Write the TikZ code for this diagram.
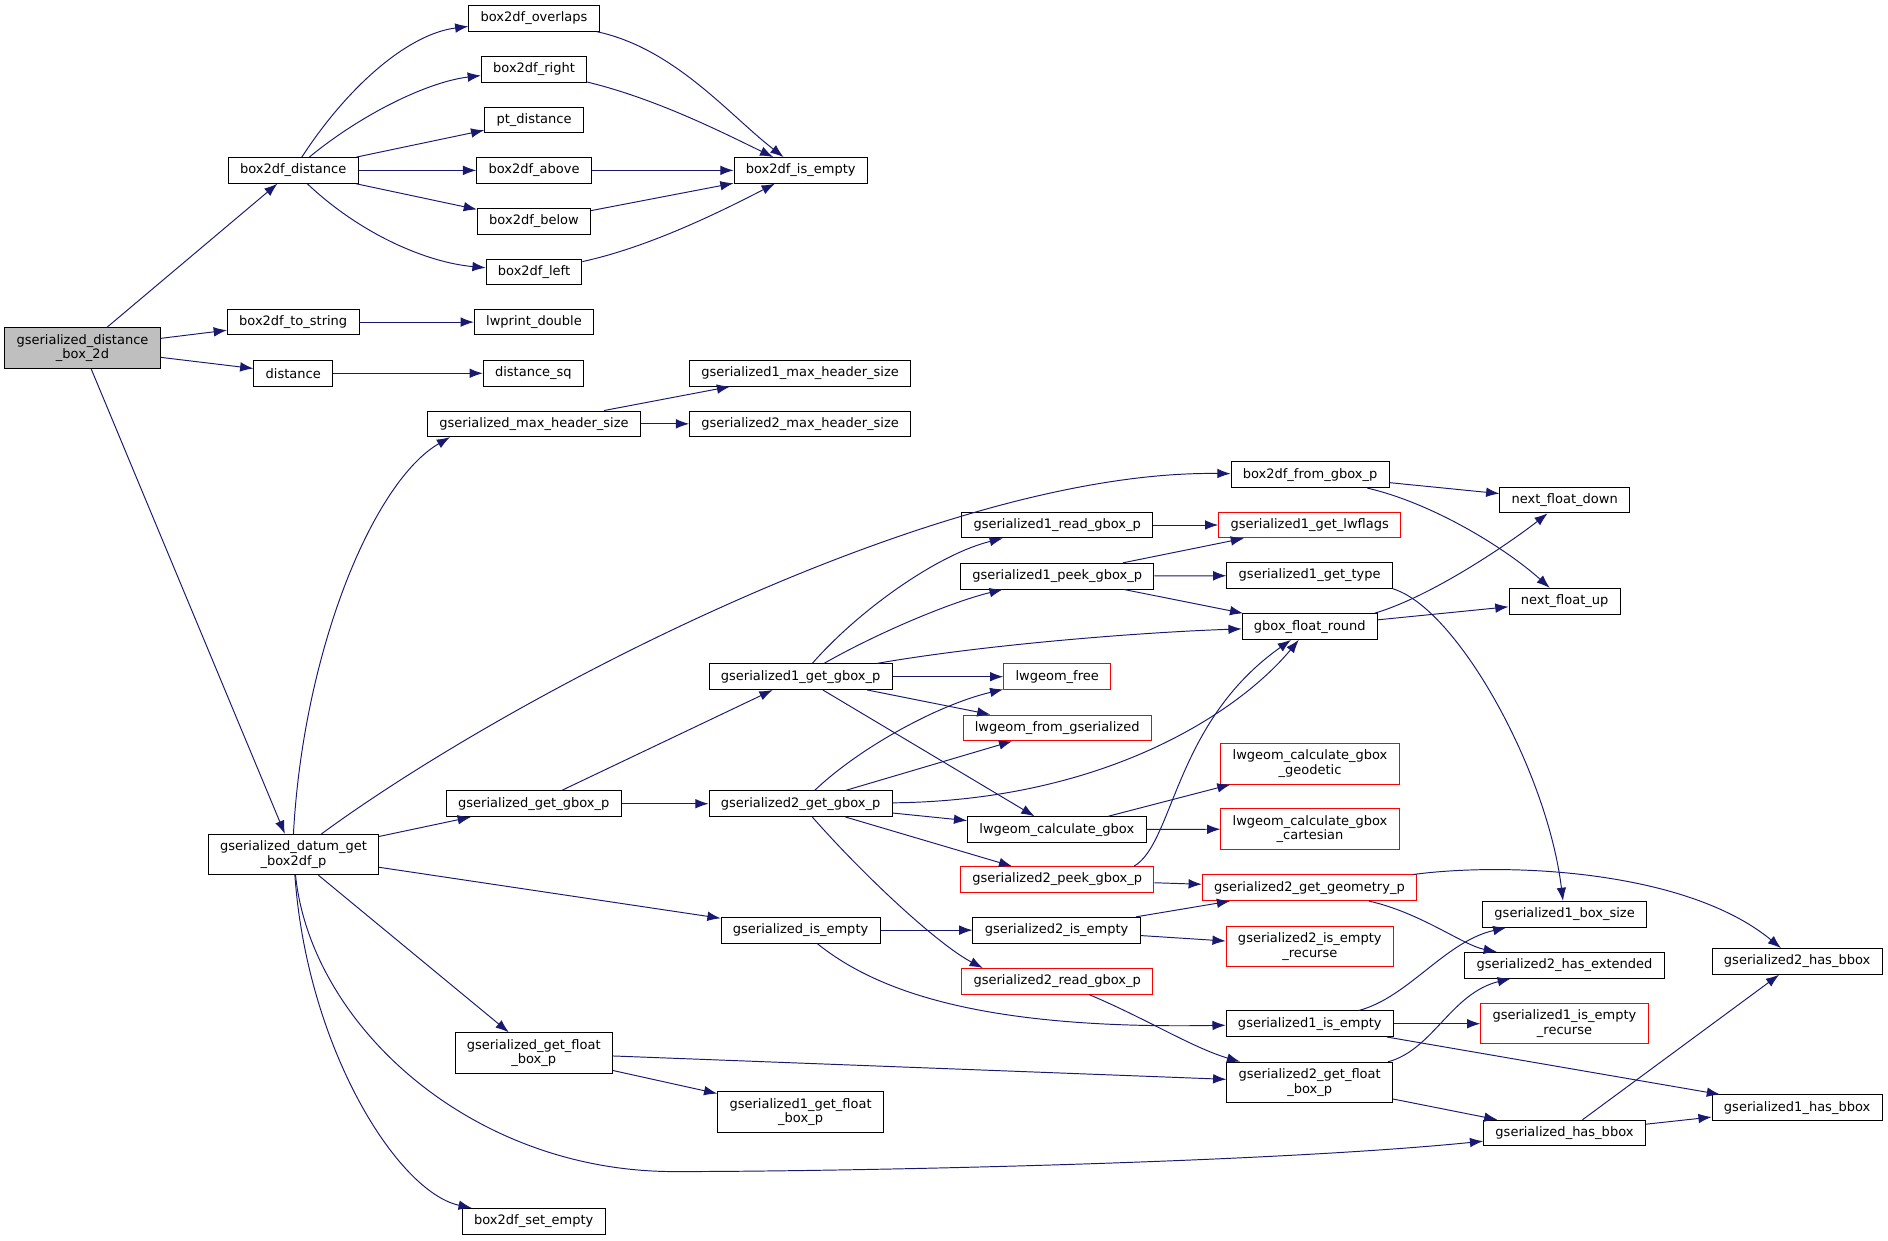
\documentclass[tikz,border=0pt]{standalone}
\usepackage{fontspec}
\setmainfont{DejaVu Sans}
\usepackage{tikz}
\usetikzlibrary{arrows.meta}
\definecolor{edgeblue}{HTML}{191970}
\definecolor{rootgray}{HTML}{BFBFBF}
\newcommand{\dxfont}{\fontsize{10.8}{12.2}\selectfont}
\tikzset{
	fn/.style={draw=black,line width=0.8pt,fill=white,font=\dxfont,align=center,inner xsep=9.8pt,inner ysep=0pt,minimum height=21.3pt},
	fntwo/.style={fn,minimum height=33.5pt},
	fnred/.style={draw=red},
	fnroot/.style={fntwo,fill=rootgray},
	fe/.style={draw=edgeblue,line width=0.8pt,-{Latex[length=11pt,width=8pt]}}
}

\begin{document}
\begin{tikzpicture}[x=1pt,y=-1pt]
	\useasboundingbox (0,0) rectangle (1568,1030);
	\node[fnroot] (root) at (68.5,289) {gserialized\_distance\\\_box\_2d};
	\node[fn] (bdist) at (243.5,141.5) {box2df\_distance};
	\node[fn] (tostr) at (243.5,267.5) {box2df\_to\_string};
	\node[fn] (dist) at (243.5,310) {distance};
	\node[fntwo] (datum) at (243.7,709.7) {gserialized\_datum\_get\\\_box2df\_p};
	%
	\node[fn] (overlaps) at (443.5,15.2) {box2df\_overlaps};
	\node[fn] (right) at (443.5,57.5) {box2df\_right};
	\node[fn] (ptdist) at (443.5,99.5) {pt\_distance};
	\node[fn] (above) at (443.5,141.5) {box2df\_above};
	\node[fn] (below) at (443.5,184) {box2df\_below};
	\node[fn] (left) at (443.5,226) {box2df\_left};
	\node[fn] (lwprint) at (443.5,267.5) {lwprint\_double};
	\node[fn] (distsq) at (443,310) {distance\_sq};
	\node[fn] (maxhdr) at (443.5,352) {gserialized\_max\_header\_size};
	\node[fn] (getgbox) at (443.3,667.5) {gserialized\_get\_gbox\_p};
	\node[fntwo] (getfloat) at (443.3,874.5) {gserialized\_get\_float\\\_box\_p};
	\node[fn] (setempty) at (443.3,1014.3) {box2df\_set\_empty};
	%
	\node[fn] (bempty) at (665,141.5) {box2df\_is\_empty};
	\node[fn] (gmaxone) at (664.5,310) {gserialized1\_max\_header\_size};
	\node[fn] (gmaxtwo) at (664.5,352) {gserialized2\_max\_header\_size};
	\node[fn] (gone) at (664.9,562) {gserialized1\_get\_gbox\_p};
	\node[fn] (gtwo) at (664.9,667.5) {gserialized2\_get\_gbox\_p};
	\node[fn] (isempty) at (664.9,772.5) {gserialized\_is\_empty};
	\node[fntwo] (gonefloat) at (664.9,923.5) {gserialized1\_get\_float\\\_box\_p};
	%
	\node[fn] (oneread) at (878,436) {gserialized1\_read\_gbox\_p};
	\node[fn] (onepeek) at (878,478.5) {gserialized1\_peek\_gbox\_p};
	\node[fn,fnred] (lwfree) at (878,562) {lwgeom\_free};
	\node[fn,fnred] (lwfromg) at (878,604.5) {lwgeom\_from\_gserialized};
	\node[fn] (lwcalc) at (877.7,689) {lwgeom\_calculate\_gbox};
	\node[fn,fnred] (twopeek) at (878,730.5) {gserialized2\_peek\_gbox\_p};
	\node[fn] (twoempty) at (877.5,772.5) {gserialized2\_is\_empty};
	\node[fn,fnred] (tworead) at (878,815) {gserialized2\_read\_gbox\_p};
	%
	\node[fn] (fromgbox) at (1088,394.3) {box2df\_from\_gbox\_p};
	\node[fn,fnred] (lwflags) at (1087.7,436) {gserialized1\_get\_lwflags};
	\node[fn] (onetype) at (1087.7,478) {gserialized1\_get\_type};
	\node[fn] (fround) at (1087.8,520.4) {gbox\_float\_round};
	\node[fntwo,fnred] (geodetic) at (1088,634.4) {lwgeom\_calculate\_gbox\\\_geodetic};
	\node[fntwo,fnred] (cartesian) at (1088,688.5) {lwgeom\_calculate\_gbox\\\_cartesian};
	\node[fn,fnred] (twogeom) at (1087.5,737.3) {gserialized2\_get\_geometry\_p};
	\node[fntwo,fnred] (tworec) at (1087.8,786) {gserialized2\_is\_empty\\\_recurse};
	\node[fn] (oneempty) at (1087.8,850.2) {gserialized1\_is\_empty};
	\node[fntwo] (twofloat) at (1087.7,899) {gserialized2\_get\_float\\\_box\_p};
	%
	\node[fn] (fdown) at (1299.5,415.3) {next\_float\_down};
	\node[fn] (fup) at (1299.4,499.3) {next\_float\_up};
	\node[fn] (boxsize) at (1299.4,759.3) {gserialized1\_box\_size};
	\node[fn] (hasext) at (1299.3,801.6) {gserialized2\_has\_extended};
	\node[fntwo,fnred] (onerec) at (1299.3,850.2) {gserialized1\_is\_empty\\\_recurse};
	\node[fn] (hasbbox) at (1299.3,941) {gserialized\_has\_bbox};
	%
	\node[fn] (twobbox) at (1492.5,798.5) {gserialized2\_has\_bbox};
	\node[fn] (onebbox) at (1492.5,920) {gserialized1\_has\_bbox};
	%
	\path (root) edge[fe] (bdist);
	\path (root) edge[fe] (tostr);
	\path (root) edge[fe] (dist);
	\path (root) edge[fe] (datum);
	%
	\draw[fe] (bdist) .. controls (290,70) and (340,28) .. (overlaps);
	\draw[fe] (bdist) .. controls (300,95) and (355,68) .. (right);
	\path (bdist) edge[fe] (ptdist);
	\path (bdist) edge[fe] (above);
	\path (bdist) edge[fe] (below);
	\draw[fe] (bdist) .. controls (300,195) and (355,218) .. (left);
	\draw[fe] (overlaps) .. controls (560,40) and (605,95) .. (bempty);
	\draw[fe] (right) .. controls (545,82) and (600,110) .. (bempty);
	\path (above) edge[fe] (bempty);
	\path (below) edge[fe] (bempty);
	\draw[fe] (left) .. controls (540,205) and (600,175) .. (bempty);
	\path (tostr) edge[fe] (lwprint);
	\path (dist) edge[fe] (distsq);
	%
	\draw[fe] (datum.north) .. controls (252,540) and (310,400) .. ([xshift=19pt]maxhdr.south west);
	\path (maxhdr) edge[fe] (gmaxone);
	\path (maxhdr) edge[fe] (gmaxtwo);
	\draw[fe] (datum) .. controls (420,580) and (780,390) .. (fromgbox);
	\path (datum) edge[fe] (getgbox);
	\path (datum) edge[fe] (isempty);
	\path (datum) edge[fe] (getfloat);
	\draw[fe] (datum) .. controls (258,850) and (390,973) .. (560,973) .. controls (700,973) and (1050,966) .. (hasbbox);
	\draw[fe] (datum) .. controls (255,870) and (330,990) .. (setempty);
	%
	\path (fromgbox) edge[fe] (fdown);
	\draw[fe] (fromgbox) .. controls (1190,418) and (1250,455) .. (fup);
	\path (getgbox) edge[fe] (gone);
	\path (getgbox) edge[fe] (gtwo);
	%
	\draw[fe] (gone) .. controls (715,505) and (780,460) .. (oneread);
	\draw[fe] (gone) .. controls (730,525) and (790,500) .. (onepeek);
	\draw[fe] (gone) .. controls (820,535) and (950,525) .. (fround);
	\path (gone) edge[fe] (lwfree);
	\path (gone) edge[fe] (lwfromg);
	\path (gone) edge[fe] (lwcalc);
	\path (oneread) edge[fe] (lwflags);
	\path (onepeek) edge[fe] (lwflags);
	\path (onepeek) edge[fe] (onetype);
	\path (onepeek) edge[fe] (fround);
	\draw[fe] ([xshift=-3pt]fround.north east) .. controls (1190,495) and (1255,450) .. (fdown);
	\path (fround) edge[fe] (fup);
	\draw[fe] (onetype.south east) .. controls (1210,505) and (1285,640) .. (boxsize);
	%
	\draw[fe] (gtwo) .. controls (715,620) and (780,585) .. (lwfree);
	\path (gtwo) edge[fe] (lwfromg);
	\draw[fe] (gtwo) .. controls (920,665) and (1030,590) .. (fround);
	\path (gtwo) edge[fe] (lwcalc);
	\path (gtwo) edge[fe] (twopeek);
	\draw[fe] (gtwo) .. controls (720,730) and (780,785) .. ([xshift=18pt]tworead.north west);
	\path (lwcalc) edge[fe] (geodetic);
	\path (lwcalc) edge[fe] (cartesian);
	\draw[fe] ([xshift=-17pt]twopeek.north east) .. controls (975,700) and (975,600) .. (fround);
	\path (twopeek) edge[fe] (twogeom);
	\draw[fe] ([xshift=-3pt]twogeom.north east) .. controls (1250,716) and (1400,722) .. (twobbox);
	\draw[fe] (twogeom) .. controls (1180,758) and (1215,785) .. (hasext);
	%
	\path (isempty) edge[fe] (twoempty);
	\draw[fe] (isempty) .. controls (730,825) and (820,855) .. (oneempty);
	\path (twoempty) edge[fe] (twogeom);
	\path (twoempty) edge[fe] (tworec);
	\draw[fe] (tworead) .. controls (950,845) and (990,870) .. (twofloat);
	\draw[fe] (oneempty) .. controls (1170,828) and (1200,782) .. (boxsize);
	\path (oneempty) edge[fe] (onerec);
	\path (oneempty) edge[fe] (onebbox);
	%
	\path (getfloat) edge[fe] (twofloat);
	\path (getfloat) edge[fe] (gonefloat);
	\draw[fe] (twofloat) .. controls (1190,872) and (1205,825) .. (hasext);
	\path (twofloat) edge[fe] (hasbbox);
	\path (hasbbox) edge[fe] (twobbox);
	\path (hasbbox) edge[fe] (onebbox);
\end{tikzpicture}
\end{document}
